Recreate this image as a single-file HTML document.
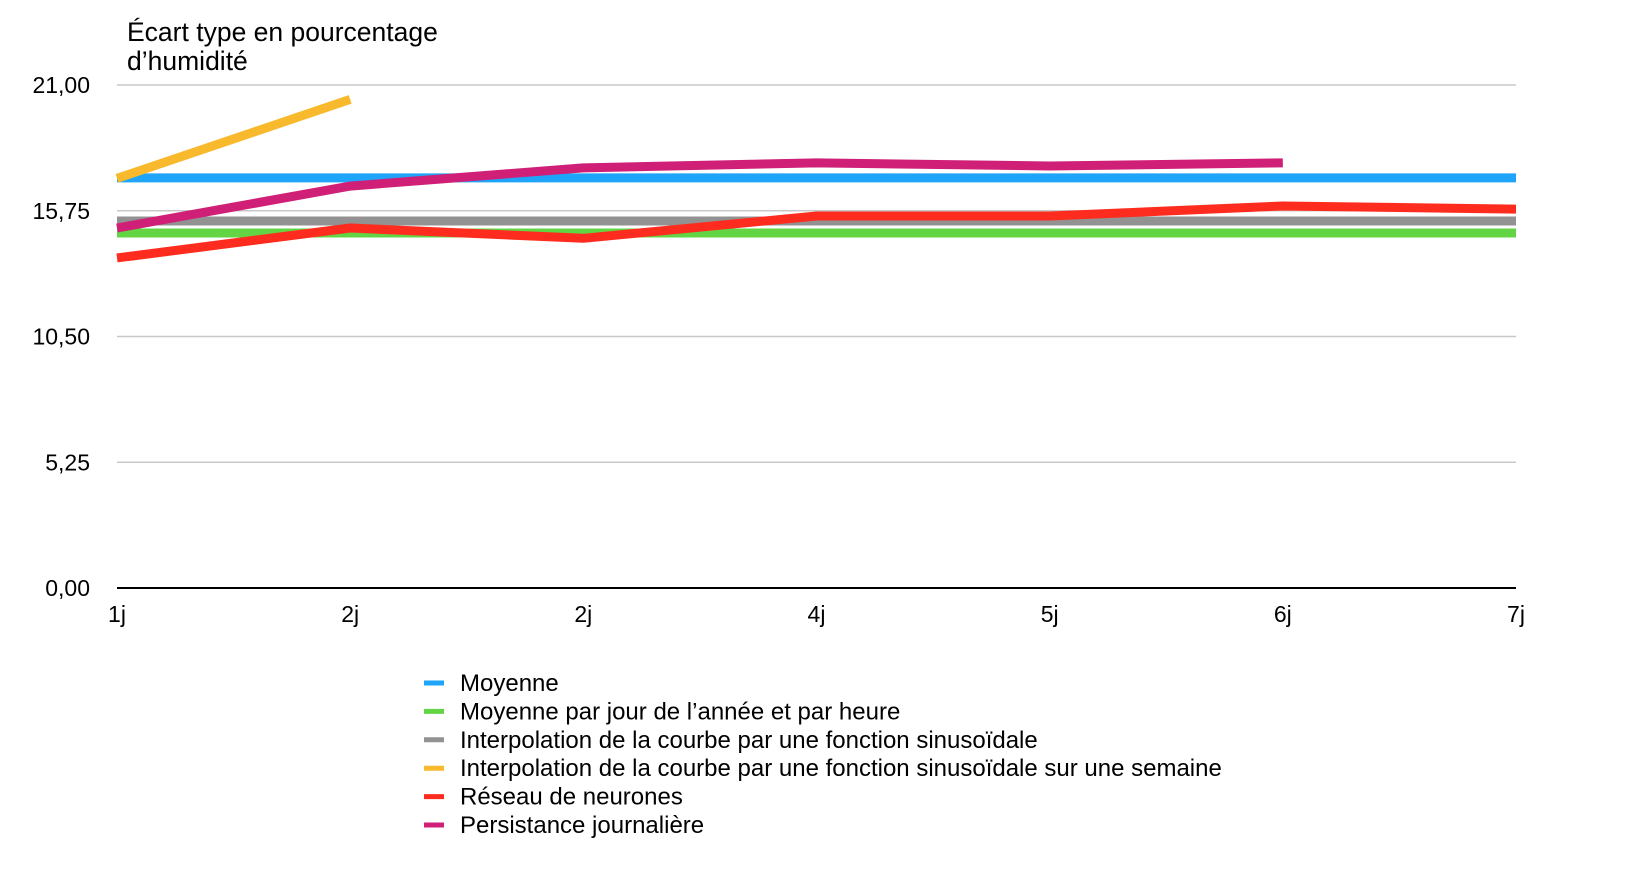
<!DOCTYPE html>
<html><head><meta charset="utf-8"><style>
html,body{margin:0;padding:0;background:#fff;}
svg{display:block;font-family:"Liberation Sans",Arial,sans-serif;}
</style></head><body>
<svg id="chart" width="1626" height="886" viewBox="0 0 1626 886" xmlns="http://www.w3.org/2000/svg">
<g>
<text x="127" y="41" font-size="26.5" fill="#000">Écart type en pourcentage</text>
<text x="127" y="70" font-size="26.5" fill="#000">d’humidité</text>
</g>
<g id="grid"></g>
<g id="yticks"></g>
<g id="xticks"></g>
<g id="series"></g>
<g id="legend"></g>
</svg>
<script>
const categories = ["1j","2j","2j","4j","5j","6j","7j"];
const yTickValues = [0, 5.25, 10.5, 15.75, 21];
const yTickLabels = ["0,00","5,25","10,50","15,75","21,00"];
const seriesNames = ["Moyenne","Moyenne par jour de l’année et par heure","Interpolation de la courbe par une fonction sinusoïdale","Interpolation de la courbe par une fonction sinusoïdale sur une semaine","Réseau de neurones","Persistance journalière"];
const seriesColors = ["#1ea5fa","#63d443","#929292","#f8b92d","#fe2c1e","#d01f77"];
const moyenne = [17.12,17.12,17.12,17.12,17.12,17.12,17.12];
const moyenneJourHeure = [14.82,14.82,14.82,14.82,14.82,14.82,14.82];
const sinus = [15.32,15.32,15.32,15.32,15.32,15.32,15.32];
const sinusSemaine = [17.1,20.4,null,null,null,null,null];
const reseau = [13.78,15.03,14.6,15.53,15.53,15.95,15.82];
const persistance = [15.03,16.78,17.54,17.75,17.62,17.75,null];
const seriesValues = [moyenne,moyenneJourHeure,sinus,sinusSemaine,reseau,persistance];

const NS="http://www.w3.org/2000/svg";
const X0=117,X1=1516,Y0=588,Y1=85,YMAX=21;
const xs=i=>X0+(X1-X0)*i/(categories.length-1);
const ys=v=>Y0-(Y0-Y1)*v/YMAX;
function mk(t,a){const e=document.createElementNS(NS,t);for(const k in a)e.setAttribute(k,a[k]);return e;}
const grid=document.getElementById('grid'),yt=document.getElementById('yticks'),xt=document.getElementById('xticks'),sg=document.getElementById('series'),lg=document.getElementById('legend');
yTickValues.forEach((v,i)=>{
  if(v>0){const l=mk('line',{x1:X0,x2:X1,y1:ys(v),y2:ys(v),stroke:'#c8c8c8','stroke-width':1.5});
  
  
  grid.appendChild(l);}
  const t=mk('text',{x:90,y:ys(v)+8,'font-size':23,'text-anchor':'end',fill:'#000'});t.textContent=yTickLabels[i];
  
  
  yt.appendChild(t);
});
const ax=mk('line',{x1:X0,x2:X1,y1:Y0,y2:Y0,stroke:'#000','stroke-width':2});


grid.appendChild(ax);
categories.forEach((c,i)=>{
  const t=mk('text',{x:xs(i),y:622,'font-size':23,'text-anchor':'middle',fill:'#000'});t.textContent=c;
  
  
  xt.appendChild(t);
});
seriesValues.forEach((arr,s)=>{
  const pts=[];arr.forEach((v,i)=>{if(v!==null)pts.push(xs(i)+','+ys(v));});
  const p=mk('polyline',{points:pts.join(' '),fill:'none',stroke:seriesColors[s],'stroke-width':9,'stroke-linejoin':'round'});
  
  
  sg.appendChild(p);
  const y=683+s*28.4;
  const sw=mk('line',{x1:424,x2:444,y1:y,y2:y,stroke:seriesColors[s],'stroke-width':5});
  
  
  lg.appendChild(sw);
  const t=mk('text',{x:460,y:y+8,'font-size':24,fill:'#000'});t.textContent=seriesNames[s];
  
  
  lg.appendChild(t);
});
</script>
</body></html>
